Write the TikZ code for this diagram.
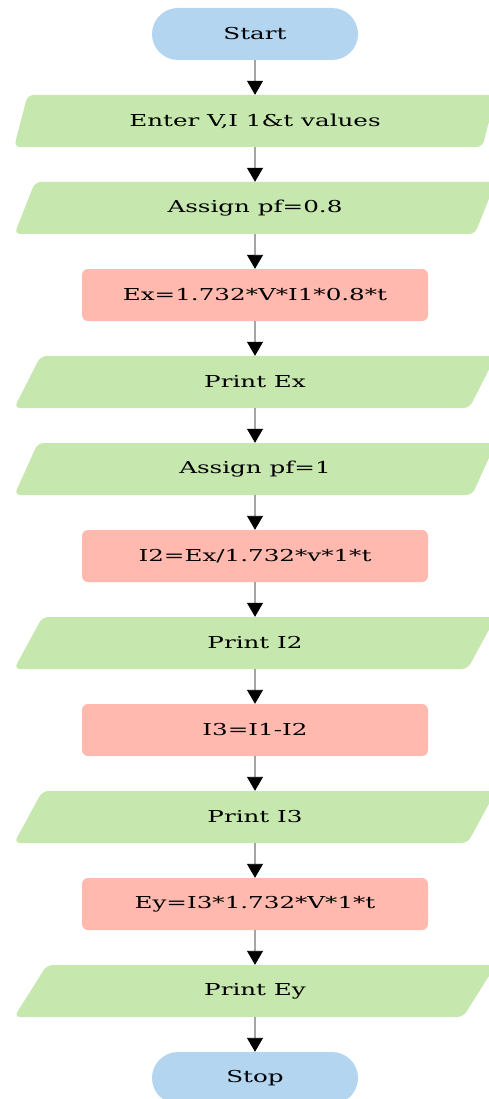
\documentclass[tikz,border=0pt]{standalone}
\usepackage{fontspec}
\setmainfont[FakeStretch=1.5]{DejaVu Serif}
\usetikzlibrary{shapes.geometric,arrows.meta}
\definecolor{termblue}{RGB}{179,213,239}
\definecolor{iogreen}{RGB}{198,231,174}
\definecolor{procpink}{RGB}{255,185,174}
\tikzset{
  base/.style={draw=none, inner sep=0pt, font=\fontsize{16.4}{18}\selectfont, text=black},
  terminal/.style={base, fill=termblue, rectangle, rounded corners=26pt, minimum width=206pt, minimum height=52pt},
  iobox/.style={base, fill=iogreen, trapezium, trapezium left angle=63, trapezium right angle=117,
    trapezium stretches=true, minimum width=482pt, minimum height=52pt, rounded corners=6pt},
  procbox/.style={base, fill=procpink, rectangle, rounded corners=6pt, minimum width=346pt, minimum height=52pt},
  flow/.style={line width=0.9pt, -{Triangle[width=16pt,length=14pt]}}
}
\begin{document}
\begin{tikzpicture}[x=1pt,y=-1pt]
\useasboundingbox (0,0) rectangle (489,1099);
\node[terminal] (start) at (255,34) {Start};
\node[iobox] (enter) at (255,121) {Enter V,I 1\&t values};
\node[iobox] (pf1) at (255,208) {Assign pf=0.8};
\node[procbox] (ex) at (255,295) {Ex=1.732*V*I1*0.8*t};
\node[iobox] (prex) at (255,382) {Print Ex};
\node[iobox] (pf2) at (255,469) {Assign pf=1};
\node[procbox] (itwo) at (255,556) {I2=Ex/1.732*v*1*t};
\node[iobox] (pritwo) at (255,643) {Print I2};
\node[procbox] (ithree) at (255,730) {I3=I1-I2};
\node[iobox] (prithree) at (255,817) {Print I3};
\node[procbox] (ey) at (255,904) {Ey=I3*1.732*V*1*t};
\node[iobox] (prey) at (255,991) {Print Ey};
\node[terminal] (stop) at (255,1078) {Stop};
\foreach \a/\b in {start/enter, enter/pf1, pf1/ex, ex/prex, prex/pf2, pf2/itwo,
  itwo/pritwo, pritwo/ithree, ithree/prithree, prithree/ey, ey/prey, prey/stop}
  \draw[flow] (\a.south) -- (\b.north);
\end{tikzpicture}
\end{document}
